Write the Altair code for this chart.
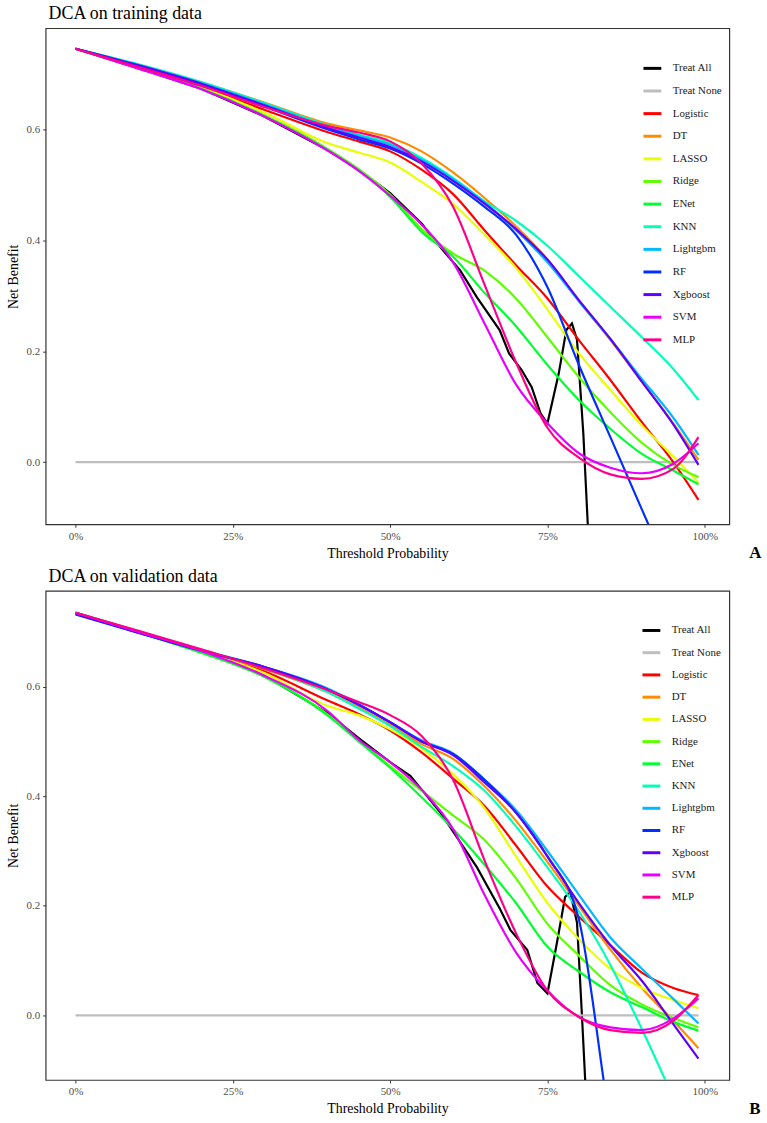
import altair as alt
import pandas as pd

SERIF = "Liberation Serif"

MODELS = ["Treat All", "Treat None", "Logistic", "DT", "LASSO", "Ridge", "ENet",
          "KNN", "Lightgbm", "RF", "Xgboost", "SVM", "MLP"]
COLORS = ["#000000", "#BEBEBE", "#FF0000", "#FF8B00", "#E8FF00", "#5DFF00", "#00FF2E",
          "#00FFB9", "#00B9FF", "#002EFF", "#5D00FF", "#E800FF", "#FF008B"]

# threshold grid shared by the smoothed model curves
THRESH = [0, 0.1, 0.2, 0.3, 0.4, 0.45, 0.5, 0.55, 0.6, 0.65, 0.7, 0.75, 0.8, 0.85, 0.9, 0.95, 0.99]

# ---- training data ----
TRAIN_TREAT_NONE = [0.0] * 17
TRAIN_LOGISTIC = [0.745, 0.711, 0.676, 0.635, 0.595, 0.578, 0.560, 0.527, 0.483, 0.418, 0.355, 0.295, 0.220, 0.148, 0.072, 0.000, -0.068]
TRAIN_DT       = [0.745, 0.716, 0.684, 0.648, 0.610, 0.598, 0.585, 0.560, 0.522, 0.476, 0.425, 0.365, 0.290, 0.220, 0.145, 0.070, 0.004]
TRAIN_LASSO    = [0.745, 0.711, 0.675, 0.630, 0.575, 0.558, 0.540, 0.505, 0.465, 0.410, 0.350, 0.275, 0.196, 0.130, 0.066, 0.010, -0.037]
TRAIN_RIDGE    = [0.745, 0.710, 0.673, 0.625, 0.565, 0.528, 0.482, 0.420, 0.376, 0.345, 0.295, 0.225, 0.153, 0.090, 0.035, -0.005, -0.027]
TRAIN_ENET     = [0.745, 0.710, 0.673, 0.624, 0.563, 0.526, 0.478, 0.415, 0.370, 0.305, 0.245, 0.175, 0.112, 0.060, 0.015, -0.015, -0.040]
TRAIN_KNN      = [0.745, 0.717, 0.685, 0.647, 0.607, 0.590, 0.575, 0.548, 0.512, 0.470, 0.435, 0.390, 0.335, 0.280, 0.225, 0.168, 0.112]
TRAIN_LIGHTGBM = [0.745, 0.716, 0.683, 0.645, 0.605, 0.588, 0.572, 0.545, 0.510, 0.468, 0.418, 0.360, 0.290, 0.222, 0.150, 0.080, 0.013]
TRAIN_RF       = [0.745, 0.714, 0.680, 0.641, 0.600, 0.582, 0.565, 0.538, 0.502, 0.460, 0.410, 0.315, 0.175, 0.045, -0.085, -0.215, -0.320]
TRAIN_XGBOOST  = [0.745, 0.715, 0.682, 0.643, 0.602, 0.585, 0.568, 0.542, 0.507, 0.466, 0.420, 0.365, 0.292, 0.222, 0.145, 0.068, -0.005]
TRAIN_SVM      = [0.745, 0.709, 0.672, 0.623, 0.562, 0.525, 0.480, 0.428, 0.360, 0.250, 0.140, 0.070, 0.016, -0.010, -0.020, -0.003, 0.034]
TRAIN_MLP      = [0.745, 0.712, 0.678, 0.640, 0.606, 0.594, 0.578, 0.538, 0.460, 0.320, 0.180, 0.062, 0.008, -0.022, -0.030, -0.012, 0.045]

TRAIN_ALL_T = [0, 0.1, 0.2, 0.3, 0.4, 0.45, 0.5, 0.55, 0.58, 0.611, 0.638, 0.674, 0.689, 0.709,
               0.725, 0.739, 0.75, 0.768, 0.78, 0.789, 0.797, 0.807, 0.814, 0.822]
TRAIN_ALL_NB = [0.745, 0.710, 0.673, 0.623, 0.563, 0.527, 0.485, 0.430, 0.387, 0.346, 0.297, 0.238,
                0.196, 0.166, 0.135, 0.088, 0.070, 0.160, 0.238, 0.250, 0.220, 0.052, -0.110, -0.250]

# ---- validation data ----
VALID_TREAT_NONE = [0.0] * 17
VALID_LOGISTIC = [0.735, 0.700, 0.665, 0.628, 0.575, 0.550, 0.520, 0.480, 0.432, 0.382, 0.310, 0.235, 0.180, 0.128, 0.078, 0.050, 0.037]
VALID_DT       = [0.735, 0.701, 0.667, 0.632, 0.590, 0.562, 0.530, 0.495, 0.468, 0.418, 0.355, 0.280, 0.200, 0.120, 0.050, -0.010, -0.060]
VALID_LASSO    = [0.735, 0.700, 0.664, 0.625, 0.565, 0.548, 0.522, 0.487, 0.440, 0.378, 0.290, 0.205, 0.139, 0.085, 0.050, 0.028, 0.013]
VALID_RIDGE    = [0.735, 0.699, 0.662, 0.618, 0.550, 0.502, 0.455, 0.410, 0.365, 0.320, 0.250, 0.167, 0.109, 0.055, 0.020, -0.005, -0.022]
VALID_ENET     = [0.735, 0.699, 0.662, 0.618, 0.548, 0.500, 0.452, 0.398, 0.340, 0.275, 0.205, 0.125, 0.080, 0.042, 0.015, -0.012, -0.028]
VALID_KNN      = [0.735, 0.701, 0.667, 0.633, 0.590, 0.560, 0.528, 0.490, 0.455, 0.410, 0.345, 0.270, 0.190, 0.092, -0.025, -0.150, -0.250]
VALID_LIGHTGBM = [0.734, 0.700, 0.667, 0.636, 0.597, 0.568, 0.535, 0.502, 0.478, 0.430, 0.375, 0.300, 0.220, 0.142, 0.085, 0.030, -0.015]
VALID_RF       = [0.732, 0.698, 0.665, 0.636, 0.595, 0.567, 0.535, 0.500, 0.477, 0.430, 0.370, 0.290, 0.175, -0.200, -0.500, -0.600, -0.700]
VALID_XGBOOST  = [0.733, 0.699, 0.666, 0.636, 0.595, 0.567, 0.535, 0.500, 0.475, 0.425, 0.370, 0.290, 0.205, 0.128, 0.063, -0.016, -0.079]
VALID_SVM      = [0.735, 0.700, 0.665, 0.620, 0.556, 0.503, 0.462, 0.412, 0.340, 0.220, 0.115, 0.045, -0.003, -0.022, -0.027, -0.006, 0.031]
VALID_MLP      = [0.735, 0.702, 0.668, 0.633, 0.594, 0.572, 0.548, 0.510, 0.430, 0.283, 0.150, 0.045, -0.003, -0.027, -0.032, -0.010, 0.037]

VALID_ALL_T = [0, 0.1, 0.2, 0.3, 0.4, 0.45, 0.5, 0.532, 0.58, 0.638, 0.675, 0.691, 0.718, 0.734,
               0.75, 0.765, 0.778, 0.786, 0.797, 0.805, 0.81, 0.816]
VALID_ALL_NB = [0.735, 0.700, 0.665, 0.620, 0.552, 0.506, 0.462, 0.437, 0.370, 0.270, 0.193, 0.156,
                0.119, 0.059, 0.040, 0.132, 0.216, 0.226, 0.169, -0.004, -0.119, -0.250]

TRAIN = [TRAIN_TREAT_NONE, TRAIN_LOGISTIC, TRAIN_DT, TRAIN_LASSO, TRAIN_RIDGE, TRAIN_ENET,
         TRAIN_KNN, TRAIN_LIGHTGBM, TRAIN_RF, TRAIN_XGBOOST, TRAIN_SVM, TRAIN_MLP]
VALID = [VALID_TREAT_NONE, VALID_LOGISTIC, VALID_DT, VALID_LASSO, VALID_RIDGE, VALID_ENET,
         VALID_KNN, VALID_LIGHTGBM, VALID_RF, VALID_XGBOOST, VALID_SVM, VALID_MLP]

XDOM = [-0.0475, 1.039]
W = 689


def panel(curves, all_t, all_nb, title, ydom, height, tag, leg_x, leg_y, row_pad):
    rows = []
    for name, vals in zip(MODELS[1:], curves):
        for t, v in zip(THRESH, vals):
            rows.append({"model": name, "t": t, "nb": v})
    smooth = pd.DataFrame(rows)
    treat_all = pd.DataFrame({"model": "Treat All", "t": all_t, "nb": all_nb})

    x = alt.X("t:Q", title="Threshold Probability",
              scale=alt.Scale(domain=XDOM, nice=False, zero=False),
              axis=alt.Axis(values=[0, 0.25, 0.5, 0.75, 1.0], format=".0%"))
    y = alt.Y("nb:Q", title="Net Benefit",
              scale=alt.Scale(domain=ydom, nice=False, zero=False),
              axis=alt.Axis(values=[0, 0.2, 0.4, 0.6], format=".1f"))
    color = alt.Color(
        "model:N",
        scale=alt.Scale(domain=MODELS, range=COLORS),
        legend=alt.Legend(
            title=None, orient="none", legendX=leg_x, legendY=leg_y,
            direction="vertical", symbolType="stroke", symbolSize=324,
            symbolStrokeWidth=3, labelFont=SERIF, labelFontSize=11,
            labelColor="#1a1a1a", rowPadding=row_pad, labelOffset=10, padding=0,
        ),
    )
    all_line = alt.Chart(treat_all).mark_line(
        clip=True, strokeWidth=2.2, interpolate="linear"
    ).encode(x=x, y=y, color=color)
    model_lines = alt.Chart(smooth).mark_line(
        clip=True, strokeWidth=2.2, interpolate="monotone"
    ).encode(x=x, y=y, color=color)
    letter = alt.Chart(pd.DataFrame({"s": [tag]})).mark_text(
        font=SERIF, fontSize=17, fontWeight="bold", align="left",
        baseline="alphabetic", color="black"
    ).encode(x=alt.value(W + 20), y=alt.value(height + 34), text="s:N")

    return alt.layer(all_line, model_lines, letter).properties(
        width=W, height=height,
        title=alt.TitleParams(title, anchor="start", frame="group", font=SERIF,
                              fontSize=18, fontWeight="normal", color="black",
                              offset=5, dx=3),
    )


top = panel(TRAIN, TRAIN_ALL_T, TRAIN_ALL_NB, "DCA on training data",
            [-0.112, 0.782], 500, "A", 601, 30, 5.8)
bottom = panel(VALID, VALID_ALL_T, VALID_ALL_NB, "DCA on validation data",
               [-0.118, 0.775], 493, "B", 600, 29.5, 5.4)

chart = alt.vconcat(top, bottom, spacing=5).resolve_scale(
    x="independent", y="independent", color="independent"
).resolve_legend(color="independent").properties(
    padding={"left": 5, "top": 0, "right": 5, "bottom": 3},
    background="white",
).configure_view(
    stroke="#333333", strokeWidth=1.2
).configure_axis(
    grid=False, domain=False, tickColor="#333333", tickSize=3, tickWidth=1,
    labelFont=SERIF, labelFontSize=11, labelColor="#4D4D4D", labelPadding=3,
    titleFont=SERIF, titleFontSize=14, titleFontWeight="normal", titleColor="black",
).configure_axisX(titlePadding=5).configure_axisY(titlePadding=6)

chart.save("out.html", embed_options={"renderer": "svg", "actions": False})
